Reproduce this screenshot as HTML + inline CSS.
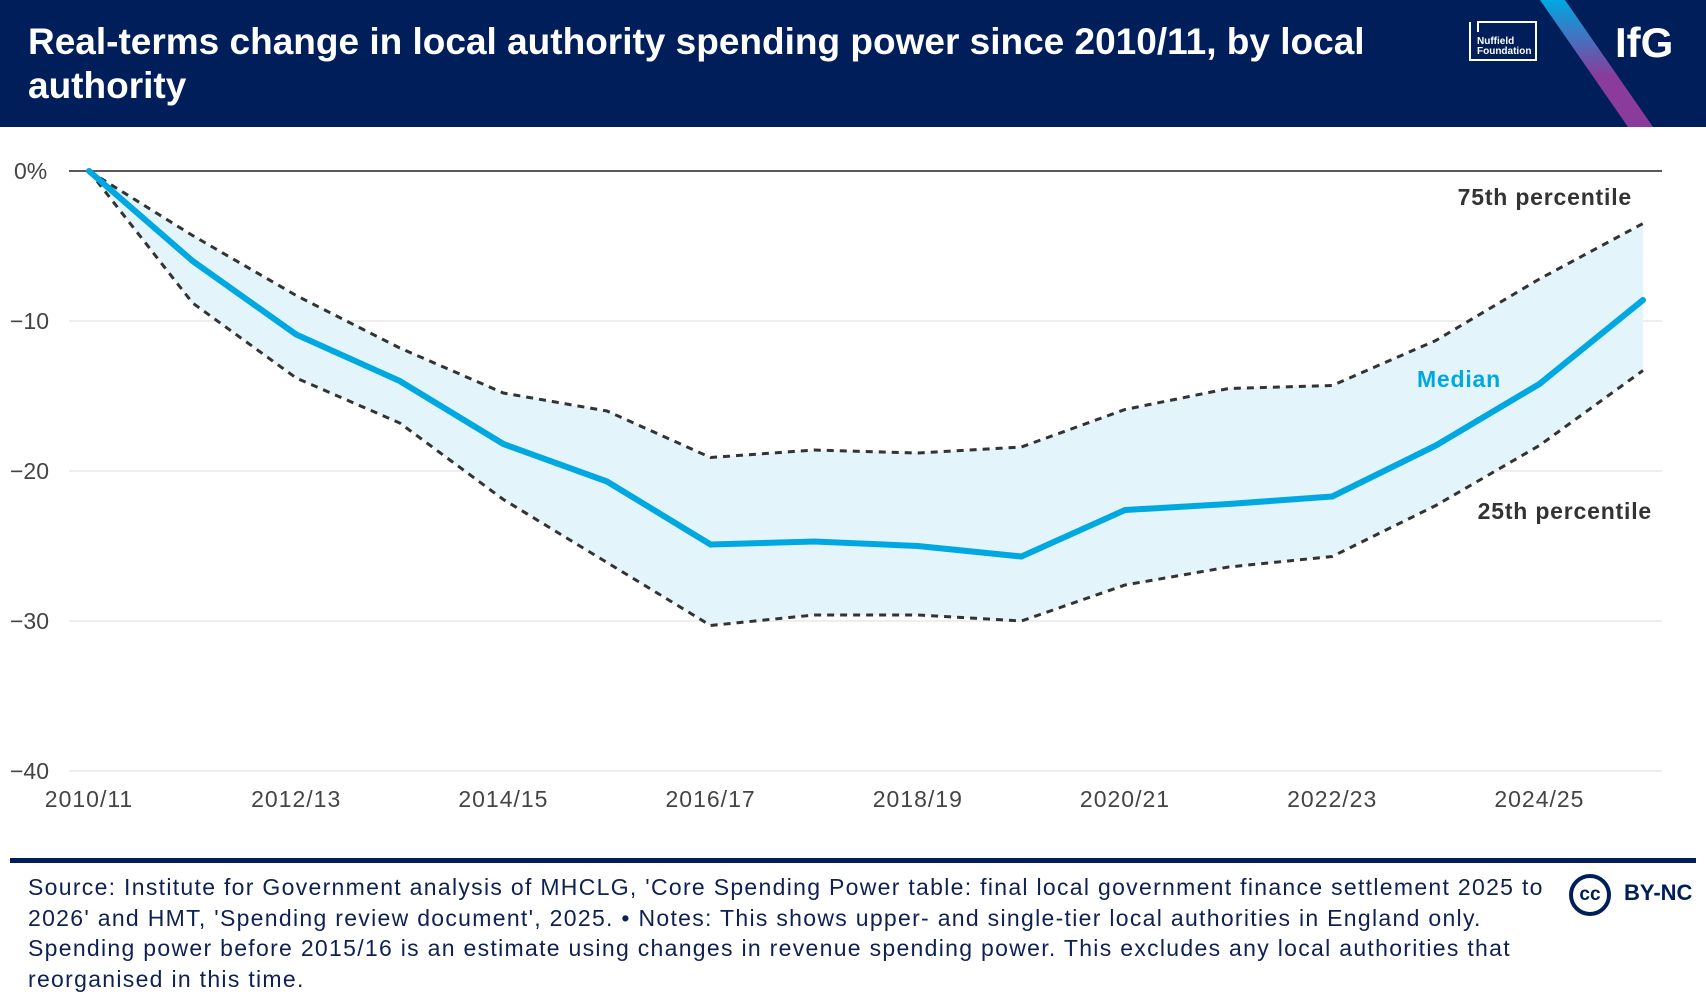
<!DOCTYPE html>
<html><head><meta charset="utf-8"><style>
body{margin:0;width:1706px;height:1008px;background:#fff;font-family:"Liberation Sans",sans-serif;overflow:hidden;position:relative}
#hdr{position:absolute;left:0;top:0;width:1706px;height:127px;background:#001e5a;overflow:hidden}
#title{position:absolute;left:28px;top:20px;color:#fff;font-weight:bold;font-size:37px;line-height:44px;white-space:nowrap}
#foot{position:absolute;left:28px;top:872px;color:#0f2052;font-size:23px;line-height:30.5px;letter-spacing:1.3px;white-space:nowrap}
</style></head><body>
<div id="hdr">
<div id="title">Real-terms change in local authority spending power since 2010/11, by local<br>authority</div>
<svg width="1706" height="127" style="position:absolute;left:0;top:0">
<defs><linearGradient id="g" x1="0" y1="0" x2="0" y2="1"><stop offset="0" stop-color="#00a8e1"/><stop offset="0.6" stop-color="#8a3b9c"/></linearGradient></defs>
<polygon points="1540,0 1565,0 1653,127 1628,127" fill="url(#g)"/>
<g><polyline points="1470,22 1470,60 1536,60 1536,22 1478,22 1478,32" fill="none" stroke="#fff" stroke-width="2"/>
<text x="1477" y="44" fill="#fff" font-size="10" font-weight="bold">Nuffield</text><text x="1477" y="54" fill="#fff" font-size="10" font-weight="bold">Foundation</text></g>
<text x="1615" y="57" fill="#fff" font-size="42" font-weight="bold">IfG</text>
</svg></div>
<svg id="chart" width="1706" height="860" style="position:absolute;left:0;top:0"></svg>
<div style="position:absolute;left:10px;top:858px;width:1686px;height:5px;background:#001e5a"></div>
<div id="foot">Source: Institute for Government analysis of MHCLG, 'Core Spending Power table: final local government finance settlement 2025 to<br>2026' and HMT, 'Spending review document', 2025. • Notes: This shows upper- and single-tier local authorities in England only.<br>Spending power before 2015/16 is an estimate using changes in revenue spending power. This excludes any local authorities that<br>reorganised in this time.</div>
<div style="position:absolute;left:1569px;top:874px;width:34px;height:34px;border:4px solid #001e5a;border-radius:50%;color:#001e5a;font-weight:bold;font-size:19px;line-height:34px;text-align:center">cc</div>
<div style="position:absolute;left:1624px;top:880px;color:#001e5a;font-weight:bold;font-size:22px">BY-NC</div>
<script>
const years=["2010/11","2011/12","2012/13","2013/14","2014/15","2015/16","2016/17","2017/18","2018/19","2019/20","2020/21","2021/22","2022/23","2023/24","2024/25","2025/26"];
const median=[0,-6,-10.9,-14,-18.2,-20.7,-24.9,-24.7,-25,-25.7,-22.6,-22.2,-21.7,-18.3,-14.2,-8.6];
const p75=[0,-4.3,-8.3,-11.8,-14.8,-16,-19.1,-18.6,-18.8,-18.4,-15.9,-14.5,-14.3,-11.3,-7.2,-3.5];
const p25=[0,-8.8,-13.8,-16.8,-21.9,-26.1,-30.3,-29.6,-29.6,-30,-27.6,-26.4,-25.7,-22.3,-18.3,-13.3];
const yTicks=[0,-10,-20,-30,-40];
const xTickLabels=["2010/11","2012/13","2014/15","2016/17","2018/19","2020/21","2022/23","2024/25"];
const NS="http://www.w3.org/2000/svg",svg=document.getElementById('chart');
const x=i=>89+i*103.6, y=v=>171-v*15;
function mk(t,a,p){const e=document.createElementNS(NS,t);for(const k in a)e.setAttribute(k,a[k]);(p||svg).appendChild(e);return e;}
yTicks.forEach(v=>{
 const l=mk('line',{x1:69,x2:1662,y1:y(v),y2:y(v),stroke:v===0?'#222':'#eee','stroke-width':v===0?1.5:2});
 
 
 const t=mk('text',{x:v===0?14:10,y:y(v)+8,'font-size':23,fill:'#444'});t.textContent=v===0?'0%':'\u2212'+(-v);
 
 
});
xTickLabels.forEach(s=>{const i=years.indexOf(s);const t=mk('text',{x:x(i),y:807,'font-size':23,fill:'#444','text-anchor':'middle','letter-spacing':1});t.textContent=s;
 
 });
const pts=a=>a.map((v,i)=>x(i)+','+y(v)).join(' ');
const band=mk('polygon',{points:pts(p75)+' '+p25.map((v,i)=>[x(i),y(v)]).reverse().map(p=>p.join(',')).join(' '),fill:'#e3f4fb'});


[[p75,'p75-line'],[p25,'p25-line']].forEach(([a,n])=>{const l=mk('polyline',{points:pts(a),fill:'none',stroke:'#333','stroke-width':3,'stroke-dasharray':'7,6'});
 
 });
const m=mk('polyline',{points:pts(median),fill:'none',stroke:'#00a8e1','stroke-width':6,'stroke-linejoin':'round','stroke-linecap':'round'});


[['75th percentile',1632,205,'#333','label-75th'],['Median',1501,387,'#00a8e1','label-median'],['25th percentile',1652,519,'#333','label-25th']].forEach(([s,a,b,c,n])=>{
 const t=mk('text',{x:a,y:b,'font-size':23,'font-weight':'bold',fill:c,'text-anchor':'end','letter-spacing':0.8});t.textContent=s;
 
 });
</script>
</body></html>
